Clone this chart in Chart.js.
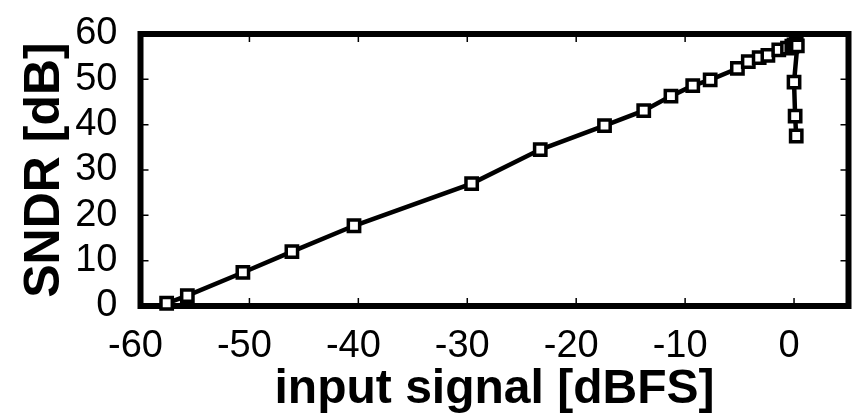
<!DOCTYPE html>
<html><head><meta charset="utf-8">
<script src="https://cdn.jsdelivr.net/npm/chart.js@4"></script>
<style>html,body{margin:0;padding:0;background:#fff;} #wrap{width:860px;height:420px;}</style>
</head><body><div id="wrap"><canvas id="c" width="860" height="420"></canvas></div>
<script>
const inputSignal = [-57.6, -55.7, -50.6, -46.1, -40.4, -29.6, -23.3, -17.4, -13.8, -11.3, -9.3, -7.7, -5.2, -4.2, -3.2, -2.4, -1.4, -0.6, -0.2, 0.0, 0.2, 0.3, 0.0, 0.1, 0.2];
const sndr = [0.6, 2.3, 7.4, 12.0, 17.7, 27.0, 34.5, 39.8, 43.1, 46.3, 48.6, 49.9, 52.4, 53.9, 54.8, 55.3, 56.5, 56.9, 57.3, 57.6, 57.8, 57.4, 49.4, 41.9, 37.5];
const xTicks = [-60, -50, -40, -30, -20, -10, 0];
const yTicks = [0, 10, 20, 30, 40, 50, 60];
const xTitle = 'input signal [dBFS]';
const yTitle = 'SNDR [dB]';

const framePlugin = {
  id: 'frame',
  beforeDatasetsDraw(chart) {
    const {ctx, chartArea: a, scales: {x, y}} = chart;
    ctx.save();
    ctx.strokeStyle = '#000';
    ctx.lineWidth = 1.5;
    const L = 8;
    ctx.beginPath();
    xTicks.forEach(v => {
      const px = x.getPixelForValue(v);
      ctx.moveTo(px, a.bottom); ctx.lineTo(px, a.bottom - L);
      ctx.moveTo(px, a.top); ctx.lineTo(px, a.top + L);
    });
    yTicks.forEach(v => {
      const py = y.getPixelForValue(v);
      ctx.moveTo(a.left, py); ctx.lineTo(a.left + L, py);
      ctx.moveTo(a.right, py); ctx.lineTo(a.right - L, py);
    });
    ctx.stroke();
    ctx.lineWidth = 6;
    ctx.lineJoin = 'miter';
    ctx.strokeRect(a.left, a.top, a.right - a.left, a.bottom - a.top);
    ctx.restore();
  }
};

new Chart(document.getElementById('c'), {
  type: 'line',
  data: {
    datasets: [{
      data: inputSignal.map((v, i) => ({x: v, y: sndr[i]})),
      borderColor: '#000',
      borderWidth: 4.5,
      pointStyle: 'rect',
      pointRadius: 8,
      pointBorderWidth: 3.5,
      pointBackgroundColor: '#fff',
      pointBorderColor: '#000',
      tension: 0,
      clip: false
    }]
  },
  plugins: [framePlugin],
  options: {
    responsive: false,
    animation: false,
    devicePixelRatio: 1,
    layout: {padding: {top: 23, right: 6, bottom: 0, left: 0}},
    plugins: {legend: {display: false}, tooltip: {enabled: false}},
    scales: {
      x: {
        type: 'linear', min: -60, max: 5,
        afterBuildTicks: s => { s.ticks = xTicks.map(v => ({value: v})); },
        afterFit: s => { s.height = 114; },
        grid: {display: false},
        border: {display: false},
        ticks: {
          color: '#000', padding: 14, maxRotation: 0, autoSkip: false, labelOffset: -5,
          font: {family: 'Liberation Sans, Arial, sans-serif', size: 38, lineHeight: 1},
          callback: v => String(v)
        },
        title: {
          display: true, text: xTitle, color: '#000',
          font: {family: 'Liberation Sans, Arial, sans-serif', size: 48, weight: 'bold', lineHeight: 1},
          padding: {top: 0, bottom: 6}
        }
      },
      y: {
        type: 'linear', min: 0, max: 60,
        afterBuildTicks: s => { s.ticks = yTicks.map(v => ({value: v})); },
        afterFit: s => { s.width = 140.5; },
        grid: {display: false},
        border: {display: false},
        ticks: {
          color: '#000', padding: 15,
          font: {family: 'Liberation Sans, Arial, sans-serif', size: 38, lineHeight: 1},
          callback: v => String(v)
        },
        title: {
          display: true, text: yTitle, color: '#000',
          font: {family: 'Liberation Sans, Arial, sans-serif', size: 50, weight: 'bold', lineHeight: 1},
          padding: {top: 20, bottom: 0}
        }
      }
    }
  }
});
</script>
</body></html>
